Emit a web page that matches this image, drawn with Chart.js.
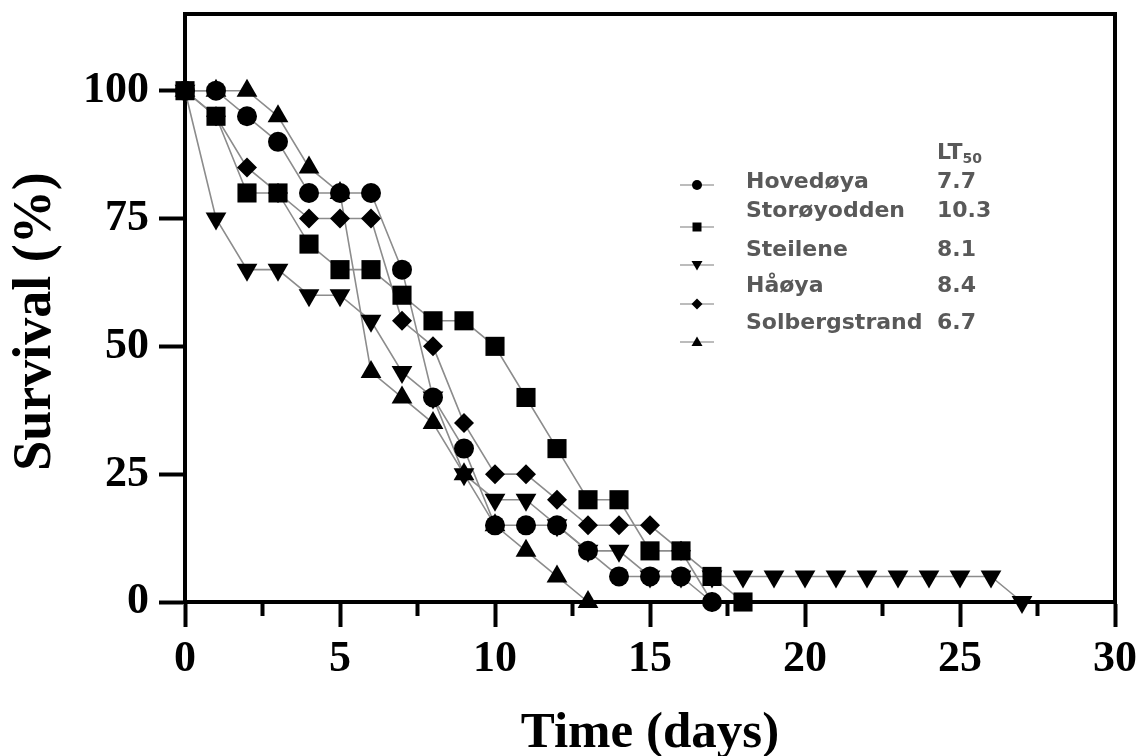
<!DOCTYPE html>
<html>
<head>
<meta charset="utf-8">
<title>Survival</title>
<script src="https://cdn.jsdelivr.net/npm/chart.js@4.4.1/dist/chart.umd.min.js"></script>
<style>
    html, body { margin: 0; padding: 0; background: #fff; }
    #wrap { position: relative; width: 1143px; height: 756px; }
</style>
</head>
<body>
<div id="wrap"><canvas id="survivalChart" width="1143" height="756"></canvas></div>
<script>
// days after start (x), survival in % (y)
const days = [0,1,2,3,4,5,6,7,8,9,10,11,12,13,14,15,16,17,18,19,20,21,22,23,24,25,26,27];
const hovedoya      = [100,100,95,90,80,80,80,65,40,30,15,15,15,10,5,5,5,0];
const storoyodden   = [100,95,80,80,70,65,65,60,55,55,50,40,30,20,20,10,10,5,0];
const steilene      = [100,75,65,65,60,60,55,45,40,25,20,20,15,10,10,5,5,5,5,5,5,5,5,5,5,5,5,0];
const haoya         = [100,95,85,80,75,75,75,55,50,35,25,25,20,15,15,15,10,0];
const solbergstrand = [100,100,100,95,85,80,45,40,35,25,15,10,5,0];

const siteNames = ['Hovedøya', 'Storøyodden', 'Steilene', 'Håøya', 'Solbergstrand'];
const lt50Values = ['7.7', '10.3', '8.1', '8.4', '6.7'];
const yTickValues = [0, 25, 50, 75, 100];
const xMinorTicks = [2.5, 7.5, 12.5, 17.5, 22.5, 27.5];

const seriesValues = [hovedoya, storoyodden, steilene, haoya, solbergstrand];
// marker look for each site
const markerStyles = [
    { style: 'circle',   radius: 10,   rotation: 0 },
    { style: 'rect',     radius: 13.5, rotation: 0 },
    { style: 'triangle', radius: 12,   rotation: 180 },
    { style: 'rectRot',  radius: 10,   rotation: 0 },
    { style: 'triangle', radius: 12,   rotation: 0 }
];

function toPoints(values) {
    return values.map((v, i) => ({ x: days[i], y: v }));
}

// lines first (drawn underneath), then the markers on top
const lineSets = seriesValues.map((vals, i) => ({
    label: siteNames[i] + ' line',
    data: toPoints(vals),
    borderColor: '#8c8c8c',
    borderWidth: 1.6,
    pointRadius: 0,
    fill: false,
    clip: false,
    order: 1
}));
const pointSets = seriesValues.map((vals, i) => ({
    label: siteNames[i],
    data: toPoints(vals),
    showLine: false,
    pointStyle: markerStyles[i].style,
    pointRadius: markerStyles[i].radius,
    pointRotation: markerStyles[i].rotation,
    pointBackgroundColor: '#000',
    pointBorderColor: '#000',
    pointBorderWidth: 0,
    clip: false,
    order: 0
}));

// small marker for the hand made legend
function legendMarker(ctx, kind, x, y) {
    ctx.beginPath();
    if (kind === 0) {
        ctx.arc(x, y, 5, 0, Math.PI * 2);
    } else if (kind === 1) {
        ctx.rect(x - 4.5, y - 4.5, 9, 9);
    } else if (kind === 2) {
        ctx.moveTo(x - 5.5, y - 4); ctx.lineTo(x + 5.5, y - 4); ctx.lineTo(x, y + 5.5);
    } else if (kind === 3) {
        ctx.moveTo(x, y - 5.5); ctx.lineTo(x + 5.5, y); ctx.lineTo(x, y + 5.5); ctx.lineTo(x - 5.5, y);
    } else {
        ctx.moveTo(x - 5.5, y + 4); ctx.lineTo(x + 5.5, y + 4); ctx.lineTo(x, y - 5.5);
    }
    ctx.closePath();
    ctx.fill();
}

const framePlugin = {
    id: 'frameAndLegend',
    afterDraw(chart) {
        const ctx = chart.ctx;
        const area = chart.chartArea;
        const xScale = chart.scales.x;

        ctx.save();
        // top and right frame lines
        ctx.strokeStyle = '#000';
        ctx.lineWidth = 4;
        ctx.beginPath();
        ctx.moveTo(area.left - 2, area.top);
        ctx.lineTo(area.right, area.top);
        ctx.lineTo(area.right, area.bottom + 2);
        ctx.stroke();

        // minor ticks on the x axis
        xMinorTicks.forEach(v => {
            const px = xScale.getPixelForValue(v);
            ctx.beginPath();
            ctx.moveTo(px, area.bottom);
            ctx.lineTo(px, area.bottom + 14);
            ctx.stroke();
        });

        // legend with LT50 column
        const nameX = 746, valueX = 937;
        const textY = [182, 211, 250, 286, 323];
        const markerY = [185, 227, 265, 304, 342];
        ctx.fillStyle = '#595959';
        ctx.textBaseline = 'middle';
        ctx.textAlign = 'left';
        ctx.font = 'bold 22px "DejaVu Sans"';
        ctx.fillText('LT', valueX, 153);
        const ltWidth = ctx.measureText('LT').width;
        ctx.font = 'bold 14px "DejaVu Sans"';
        ctx.fillText('50', valueX + ltWidth, 159);
        ctx.font = 'bold 22px "DejaVu Sans"';
        siteNames.forEach((name, i) => {
            ctx.fillStyle = '#595959';
            ctx.fillText(name, nameX, textY[i]);
            ctx.fillText(lt50Values[i], valueX, textY[i]);

            ctx.strokeStyle = '#a6a6a6';
            ctx.lineWidth = 1.5;
            ctx.beginPath();
            ctx.moveTo(680, markerY[i]);
            ctx.lineTo(714, markerY[i]);
            ctx.stroke();
            ctx.fillStyle = '#000';
            legendMarker(ctx, i, 697, markerY[i]);
        });
        ctx.restore();
    }
};

const serifBold = (size) => ({ family: '"Liberation Serif", "Times New Roman", serif', size: size, weight: 'bold' });

new Chart(document.getElementById('survivalChart').getContext('2d'), {
    type: 'line',
    data: { datasets: [...pointSets, ...lineSets] },
    options: {
        responsive: false,
        animation: false,
        events: [],
        layout: { padding: { top: 14, right: 28, left: 0, bottom: 0 } },
        plugins: {
            legend: { display: false },
            tooltip: { enabled: false }
        },
        scales: {
            x: {
                type: 'linear',
                min: 0,
                max: 30,
                ticks: {
                    stepSize: 5,
                    color: '#000',
                    font: serifBold(44),
                    padding: 6,
                    maxRotation: 0
                },
                grid: {
                    drawOnChartArea: false,
                    drawTicks: true,
                    tickLength: 25,
                    tickWidth: 4,
                    tickColor: '#000'
                },
                border: { display: true, color: '#000', width: 4 },
                title: {
                    display: true,
                    text: 'Time (days)',
                    color: '#000',
                    font: serifBold(51),
                    padding: { top: 0, bottom: -8 }
                },
                afterFit(scale) {
                    scale.height = 154;
                    scale.paddingLeft = 0;
                    scale.paddingRight = 0;
                }
            },
            y: {
                type: 'linear',
                min: 0,
                max: 115,
                ticks: {
                    stepSize: 25,
                    color: '#000',
                    font: serifBold(44),
                    padding: 10
                },
                afterBuildTicks(scale) {
                    scale.ticks = yTickValues.map(v => ({ value: v }));
                },
                grid: {
                    drawOnChartArea: false,
                    drawTicks: true,
                    tickLength: 26,
                    tickWidth: 4,
                    tickColor: '#000'
                },
                border: { display: true, color: '#000', width: 4 },
                title: {
                    display: true,
                    text: 'Survival (%)  ',
                    color: '#000',
                    font: serifBold(54),
                    padding: { top: 4, bottom: 0 }
                },
                afterFit(scale) {
                    scale.width = 185;
                    scale.paddingTop = 0;
                    scale.paddingBottom = 0;
                }
            }
        }
    },
    plugins: [framePlugin]
});
</script>
</body>
</html>
